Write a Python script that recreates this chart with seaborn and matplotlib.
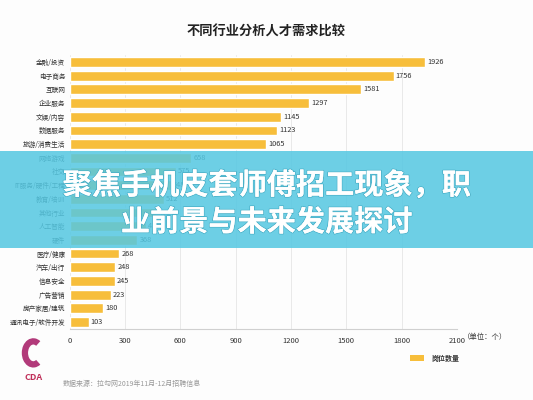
import matplotlib
matplotlib.use("Agg")
import matplotlib.pyplot as plt
import matplotlib.patches as mpatches
import matplotlib.patheffects as pe
import seaborn as sns
import pandas as pd

categories = ["金融/投资", "电子商务", "互联网", "企业服务", "文娱/内容", "数据服务",
              "旅游/消费生活", "网络游戏", "社交", "IT服务/硬件/工程", "教育/培训",
              "其他行业", "人工智能", "硬件", "医疗/健康", "汽车/出行", "信息安全",
              "广告营销", "房产家居/建筑", "通讯电子/软件开发"]
values = [1926, 1756, 1581, 1297, 1145, 1123, 1065, 658, 575, 548, 512,
          470, 415, 368, 268, 248, 245, 223, 180, 103]
x_ticks = [0, 300, 600, 900, 1200, 1500, 1800, 2100]
title = "不同行业分析人才需求比较"
series_name = "岗位数量"
banner_lines = ["聚焦手机皮套师傅招工现象，职", "业前景与未来发展探讨"]
source_text = "数据来源：拉勾网2019年11月-12月招聘信息"

sns.set_theme(style="white")
plt.rcParams['font.family'] = ['Noto Sans CJK SC', 'DejaVu Sans']

df = pd.DataFrame({"industry": categories, "count": values})

fig = plt.figure(figsize=(5.33, 4.0), dpi=100)
fig.patch.set_facecolor("#fdfdfd")
ax = fig.add_axes([0.1304, 0.178, 0.727, 0.684])
ax.set_facecolor("#fdfdfd")

bar_color = "#F7BE3B"
sns.barplot(data=df, x="count", y="industry", color=bar_color, width=0.72,
            saturation=1, ax=ax, zorder=3)

ax.set_xlim(0, 2100)
ax.set_xticks(x_ticks)
ax.set_xticklabels([str(t) for t in x_ticks], fontsize=5.5, color="#333333")
ax.tick_params(axis="x", length=0, pad=6)
ax.tick_params(axis="y", length=0, pad=3, labelsize=4.8, labelcolor="#333333")
ax.set_xlabel("")
ax.set_ylabel("")
ax.xaxis.grid(True, color="#e6e6e6", linewidth=0.6, zorder=0)
for s in ["top", "right", "left"]:
    ax.spines[s].set_visible(False)
ax.spines["bottom"].set_color("#d0d0d0")
ax.spines["bottom"].set_linewidth(0.8)

for i, v in enumerate(values):
    ax.text(v + 12, i, str(v), va="center", ha="left", fontsize=5.3,
            color="#333333", zorder=4)

fig.text(0.5, 0.92, title, ha="center", va="center", fontsize=9.5,
         fontweight="bold", color="#222222")
fig.text(0.868, 0.157, "（单位：个）", ha="left", va="center", fontsize=5.3,
         color="#333333")

# legend
fig.patches.append(mpatches.Rectangle((0.77, 0.098), 0.026, 0.014,
                                      transform=fig.transFigure,
                                      facecolor=bar_color, edgecolor="none"))
fig.text(0.81, 0.105, series_name, ha="left", va="center", fontsize=5,
         fontweight="bold", color="#333333")

# footer logo + source
logo_ax = fig.add_axes([0.025, 0.025, 0.075, 0.16])
logo_ax.set_xlim(0, 1)
logo_ax.set_ylim(0, 1)
logo_ax.axis("off")
logo_ax.add_patch(mpatches.Arc((0.5, 0.58), 0.42, 0.36, theta1=50, theta2=310,
                               linewidth=4.5, color="#b23a7a"))
logo_ax.text(0.5, 0.2, "CDA", ha="center", va="center", fontsize=6.5,
             fontweight="bold", color="#c0305a")
fig.text(0.117, 0.04, source_text, ha="left", va="center", fontsize=5,
         color="#999999")

# overlay banner
fig.patches.append(mpatches.Rectangle((0, 0.38), 1, 0.2425,
                                      transform=fig.transFigure,
                                      facecolor="#55c8e2", alpha=0.86,
                                      edgecolor="none", zorder=10))
shadow = [pe.withSimplePatchShadow(offset=(0.8, -0.8), shadow_rgbFace="#3a8fa3", alpha=0.6)]
fig.text(0.5, 0.537, banner_lines[0], ha="center", va="center", fontsize=21,
         fontweight="heavy", color="white", zorder=11,
         path_effects=[pe.withStroke(linewidth=1.2, foreground="#4ab0c8"), pe.Normal()])
fig.text(0.5, 0.445, banner_lines[1], ha="center", va="center", fontsize=21,
         fontweight="heavy", color="white", zorder=11,
         path_effects=[pe.withStroke(linewidth=1.2, foreground="#4ab0c8"), pe.Normal()])

fig.savefig("out.png", dpi=100, facecolor=fig.get_facecolor())
